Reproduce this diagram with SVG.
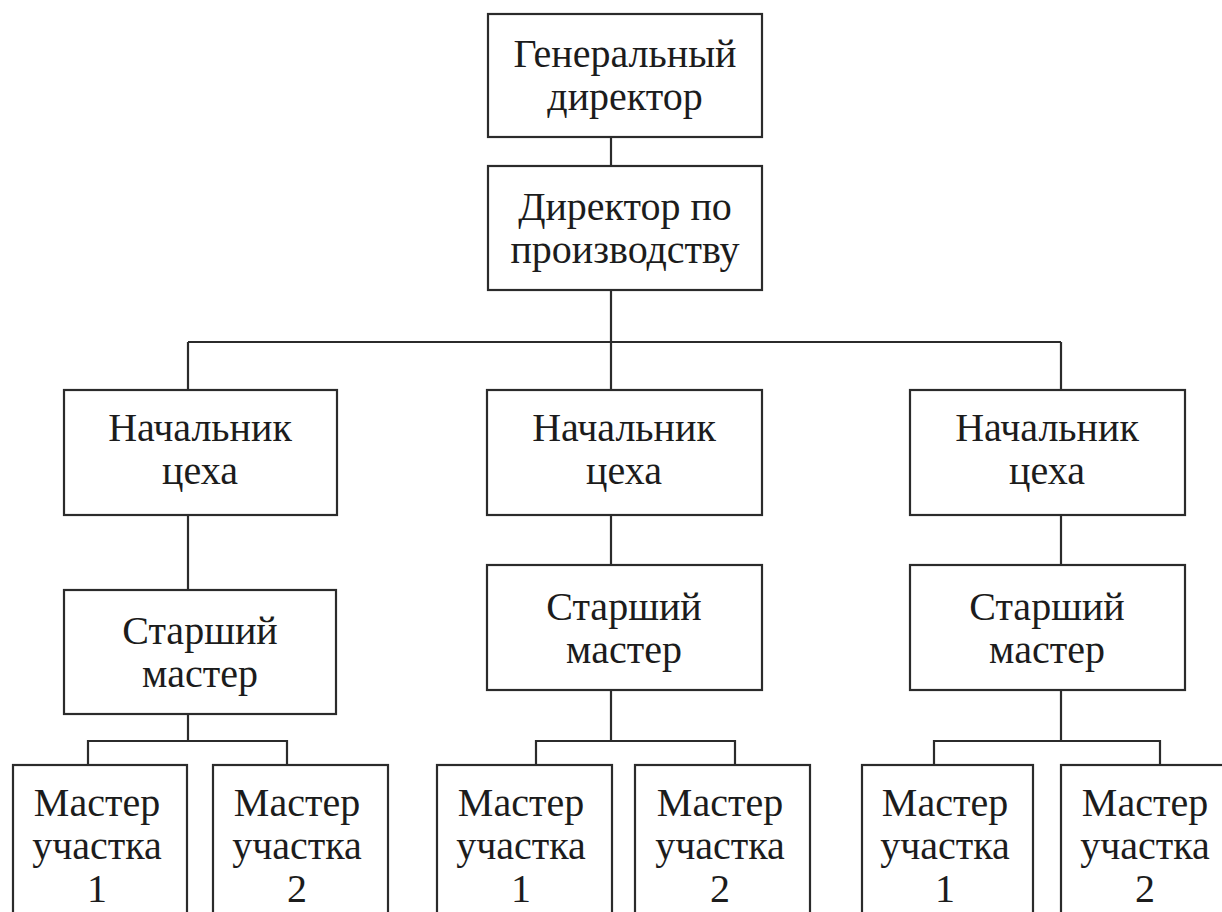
<svg xmlns="http://www.w3.org/2000/svg" width="1222" height="912" viewBox="0 0 1222 912">
<style>
.box{fill:#fff;stroke:#2b2b2b;stroke-width:2.2}
.ln{fill:none;stroke:#2b2b2b;stroke-width:2.2}
text{font-family:"Liberation Serif","Times New Roman",serif;font-size:40px;fill:#1c1c1c;text-anchor:middle}
</style>
<rect width="1222" height="912" fill="#fff"/>
<g id="connectors">
<path class="ln" d="M611 137V166"/>
<path class="ln" d="M611 290V390M188 342H1061M188 342V390M1061 342V390"/>
<path class="ln" d="M188 515V590M611 515V565M1061 515V565"/>
<path class="ln" d="M188 714V741M88 765V741H287V765"/>
<path class="ln" d="M611 690V741M536 765V741H735V765"/>
<path class="ln" d="M1061 690V741M934 765V741H1160V765"/>
</g>
<g id="gen-director"><rect class="box" x="488" y="14" width="274" height="123"/><text x="625" y="67">Генеральный</text><text x="625" y="110">директор</text></g>
<g id="prod-director"><rect class="box" x="488" y="166" width="274" height="124"/><text x="625" y="220">Директор по</text><text x="625" y="263">производству</text></g>
<g id="chief1"><rect class="box" x="64" y="390" width="273" height="125"/><text x="200" y="441">Начальник</text><text x="200" y="484">цеха</text></g>
<g id="chief2"><rect class="box" x="487" y="390" width="275" height="125"/><text x="624" y="441">Начальник</text><text x="624" y="484">цеха</text></g>
<g id="chief3"><rect class="box" x="910" y="390" width="275" height="125"/><text x="1047" y="441">Начальник</text><text x="1047" y="484">цеха</text></g>
<g id="senior1"><rect class="box" x="64" y="590" width="272" height="124"/><text x="200" y="644">Старший</text><text x="200" y="687">мастер</text></g>
<g id="senior2"><rect class="box" x="487" y="565" width="275" height="125"/><text x="624" y="620">Старший</text><text x="624" y="663">мастер</text></g>
<g id="senior3"><rect class="box" x="910" y="565" width="275" height="125"/><text x="1047" y="620">Старший</text><text x="1047" y="663">мастер</text></g>
<g id="m1-1"><rect class="box" x="13" y="765" width="174" height="170"/><text x="97" y="816">Мастер</text><text x="97" y="859">участка</text><text x="97" y="902">1</text></g>
<g id="m1-2"><rect class="box" x="213" y="765" width="175" height="170"/><text x="297" y="816">Мастер</text><text x="297" y="859">участка</text><text x="297" y="902">2</text></g>
<g id="m2-1"><rect class="box" x="437" y="765" width="175" height="170"/><text x="521" y="816">Мастер</text><text x="521" y="859">участка</text><text x="521" y="902">1</text></g>
<g id="m2-2"><rect class="box" x="635" y="765" width="175" height="170"/><text x="720" y="816">Мастер</text><text x="720" y="859">участка</text><text x="720" y="902">2</text></g>
<g id="m3-1"><rect class="box" x="862" y="765" width="171" height="170"/><text x="945" y="816">Мастер</text><text x="945" y="859">участка</text><text x="945" y="902">1</text></g>
<g id="m3-2"><rect class="box" x="1061" y="765" width="174" height="170"/><text x="1145" y="816">Мастер</text><text x="1145" y="859">участка</text><text x="1145" y="902">2</text></g>
</svg>
